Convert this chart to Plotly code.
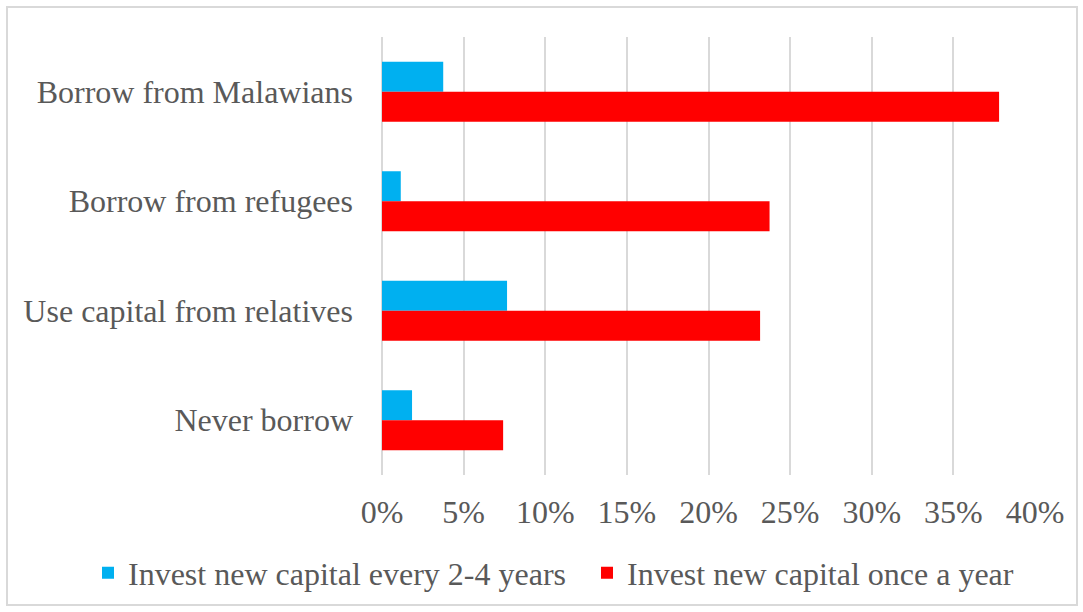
import plotly.graph_objects as go

# Survey responses: how traders source capital, by investment frequency
categories = [
    "Borrow from Malawians",
    "Borrow from refugees",
    "Use capital from relatives",
    "Never borrow",
]
every_2_4_years = [0.0375, 0.0115, 0.0766, 0.0184]
once_a_year = [0.378, 0.2374, 0.2316, 0.0742]
x_ticks = [0, 0.05, 0.10, 0.15, 0.20, 0.25, 0.30, 0.35, 0.40]
x_tick_labels = ["0%", "5%", "10%", "15%", "20%", "25%", "30%", "35%", "40%"]

W, H = 1083, 612
ML, MR, MT, MB = 382, 48, 37, 137
PW, PH = W - ML - MR, H - MT - MB

FONT = "Liberation Serif, Times New Roman, serif"
FS = 32
TXT = "#595959"
GRID = "#d9d9d9"

fig = go.Figure()
fig.add_trace(go.Bar(
    y=categories, x=every_2_4_years, orientation="h",
    name="Invest new capital every 2-4 years",
    marker=dict(color="#00B0F0", line=dict(width=0)),
    legend="legend",
))
fig.add_trace(go.Bar(
    y=categories, x=once_a_year, orientation="h",
    name="Invest new capital once a year",
    marker=dict(color="#FF0000", line=dict(width=0)),
    legend="legend2",
))

# outer chart border
def px_to_paper_x(px):
    return (px - ML) / PW

def px_to_paper_y(py):
    return (H - MB - py) / PH

fig.add_shape(
    type="rect", xref="paper", yref="paper",
    x0=px_to_paper_x(7), x1=px_to_paper_x(1077),
    y0=px_to_paper_y(605), y1=px_to_paper_y(7),
    line=dict(color=GRID, width=2), fillcolor="rgba(0,0,0,0)", layer="below",
)

legend_common = dict(
    orientation="h", xref="container", xanchor="left",
    yref="container", y=(H - 573) / H, yanchor="middle",
    font=dict(family=FONT, size=FS, color=TXT),
    bgcolor="rgba(0,0,0,0)", itemwidth=30,
)

fig.update_layout(
    width=W, height=H,
    margin=dict(l=ML, r=MR, t=MT, b=MB, pad=0, autoexpand=False),
    paper_bgcolor="white", plot_bgcolor="white",
    barmode="group", bargap=0.452, bargroupgap=0,
    font=dict(family=FONT, size=FS, color=TXT),
    xaxis=dict(
        range=[0, 0.40], tickvals=x_ticks, ticktext=x_tick_labels,
        showgrid=True, gridcolor=GRID, gridwidth=2,
        zeroline=True, zerolinecolor=GRID, zerolinewidth=2,
        showline=False, ticks="", ticklabelstandoff=15,
        tickfont=dict(family=FONT, size=FS, color=TXT),
    ),
    yaxis=dict(
        autorange="reversed", showgrid=False, zeroline=False, showline=False,
        ticks="", ticklabelstandoff=28,
        tickfont=dict(family=FONT, size=FS, color=TXT),
    ),
    legend=dict(legend_common, x=88 / W),
    legend2=dict(legend_common, x=587 / W),
    showlegend=True,
)

fig.write_html("out.html")
